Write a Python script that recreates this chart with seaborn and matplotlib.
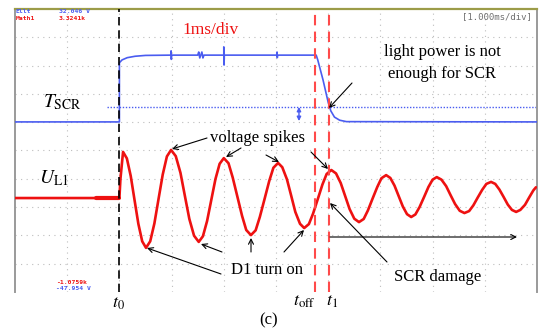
import matplotlib
matplotlib.use("Agg")
import matplotlib.pyplot as plt
import seaborn as sns
import pandas as pd

# ---------------- data (time in ms, amplitude in screen divisions) ----------------
u_time = [-2.0, 0.0, 0.02, 0.07,
          0.143, 0.217, 0.29, 0.363, 0.437, 0.51,
          0.59, 0.67, 0.75, 0.83, 0.91, 0.99,
          1.08, 1.17, 1.255, 1.34, 1.43, 1.52,
          1.60, 1.68, 1.76, 1.84, 1.92, 2.00,
          2.09, 2.17, 2.26, 2.35, 2.43, 2.52,
          2.61, 2.69, 2.78, 2.87, 2.95, 3.04,
          3.12, 3.21, 3.29, 3.37, 3.46, 3.54,
          3.63, 3.71, 3.80, 3.89, 3.97, 4.06,
          4.15, 4.24, 4.325, 4.41, 4.50, 4.59,
          4.68, 4.76, 4.85, 4.94, 5.02, 5.11,
          5.19, 5.27, 5.35, 5.43, 5.51, 5.59,
          5.67, 5.75, 5.835, 5.92, 6.00, 6.08,
          6.17, 6.26, 6.345, 6.43, 6.52, 6.61,
          6.70, 6.78, 6.865, 6.95, 7.03, 7.12,
          7.20, 7.28, 7.36, 7.44, 7.52, 7.60,
          7.68, 7.77, 7.85, 7.93, 7.98]
u_val = [-1.68, -1.68, -1.0, -0.05,
         -0.28, -0.90, -1.75, -2.59, -3.21, -3.44,
         -3.21, -2.58, -1.71, -0.85, -0.21, 0.02,
         -0.20, -0.79, -1.61, -2.42, -3.01, -3.23,
         -3.03, -2.49, -1.75, -1.01, -0.47, -0.27,
         -0.45, -0.95, -1.63, -2.31, -2.81, -2.99,
         -2.82, -2.35, -1.72, -1.08, -0.61, -0.44,
         -0.59, -1.02, -1.59, -2.17, -2.59, -2.74,
         -2.60, -2.23, -1.72, -1.20, -0.83, -0.69,
         -0.81, -1.15, -1.61, -2.07, -2.41, -2.53,
         -2.42, -2.12, -1.70, -1.29, -0.98, -0.87,
         -0.97, -1.24, -1.61, -1.98, -2.25, -2.35,
         -2.26, -2.00, -1.65, -1.29, -1.03, -0.94,
         -1.03, -1.26, -1.58, -1.89, -2.13, -2.21,
         -2.14, -1.94, -1.66, -1.39, -1.18, -1.11,
         -1.18, -1.38, -1.64, -1.91, -2.10, -2.17,
         -2.10, -1.92, -1.66, -1.41, -1.30]

t_time = [-2.0, 0.0, 0.0, 0.05, 0.15, 0.3, 0.5,
          0.99, 0.99, 0.995, 1.0,
          1.50, 1.52, 1.54, 1.58, 1.60, 1.62,
          2.00, 2.00, 2.005, 2.01,
          3.02, 3.02, 3.025, 3.03,
          3.77, 3.80, 3.90, 4.00, 4.05, 4.12, 4.22, 4.35, 8.0]
t_val = [1.01, 1.01, 3.10, 3.20, 3.28, 3.33, 3.36,
         3.37, 3.52, 3.22, 3.37,
         3.37, 3.48, 3.27, 3.48, 3.27, 3.37,
         3.37, 3.66, 3.02, 3.37,
         3.37, 3.48, 3.28, 3.37,
         3.37, 3.20, 2.50, 1.70, 1.40, 1.18, 1.07, 1.02, 1.01]

t0_time = 0.0
toff_time = 3.75
t1_time = 4.02
trigger_level = 1.54

# ---------------- style ----------------
sns.set_theme(style="white")
plt.rcParams['font.family'] = ['Liberation Serif', 'DejaVu Serif']
plt.rcParams['mathtext.fontset'] = 'stix'
plt.rcParams['text.color'] = 'black'

RED = '#ee1111'
BLUE = '#4a5cf0'
DRED = '#ff4a4a'

W, H = 542, 332
fig = plt.figure(figsize=(W / 100, H / 100), dpi=100)
ax = fig.add_axes([15 / W, 40 / H, 522 / W, 283 / H])
ax.set_xlim(-2, 8)
ax.set_ylim(-5, 5)
ax.set_xticks([])
ax.set_yticks([])
ax.set_facecolor('white')
ax.spines['bottom'].set_visible(False)
ax.spines['top'].set_color('#9c9c48')
ax.spines['top'].set_linewidth(1.6)
for s in ['left', 'right']:
    ax.spines[s].set_color('#9a9a9a')
    ax.spines[s].set_linewidth(1.4)


def P(xp, yp):
    """pixel position -> data coordinates (layout helper for labels)"""
    return ((xp - 120.4) / 52.2, (150.5 - yp) / 28.3)


# grid
for k in range(1, 10):
    ax.axvline(-2 + k, color='#bdbdbd', ls=(0, (1, 4)), lw=0.8, zorder=1)
    ax.axhline(-5 + k, color='#bdbdbd', ls=(0, (1, 4)), lw=0.8, zorder=1)

# trigger reference line
ax.plot([-0.24, 8], [trigger_level, trigger_level], color=BLUE, ls=(0, (1, 1.2)), lw=1.0, zorder=2)
ax.annotate('', xy=(3.44, trigger_level), xytext=(3.44, 1.04),
            arrowprops=dict(arrowstyle='<|-|>', color=BLUE, lw=1.0, mutation_scale=6, shrinkA=0, shrinkB=0))

# traces
sns.lineplot(x=t_time, y=t_val, ax=ax, sort=False, estimator=None, color=BLUE, linewidth=1.2, zorder=3)
sns.lineplot(x=u_time, y=u_val, ax=ax, sort=False, estimator=None, color=RED, linewidth=1.9, zorder=3)
ax.plot([-0.45, 0.0], [u_val[0], u_val[1]], color=RED, lw=3.0, zorder=3)

# event markers
ax.axvline(t0_time, color='black', ls=(0, (5, 3)), lw=1.2, zorder=4)
ax.axvline(toff_time, color=DRED, ls=(0, (5, 3)), lw=1.5, zorder=4)
ax.axvline(t1_time, color=DRED, ls=(0, (5, 3)), lw=1.5, zorder=4)

# scope readouts
mono = 'DejaVu Sans Mono'
ax.text(*P(17, 11.5), 'Ellt', color=BLUE, fontsize=4.6, family=mono, fontweight='bold', va='center')
ax.text(*P(60, 11.5), '32.046 V', color=BLUE, fontsize=4.6, family=mono, fontweight='bold', va='center')
ax.text(*P(17, 18.5), 'Math1', color=RED, fontsize=4.6, family=mono, fontweight='bold', va='center')
ax.text(*P(60, 18.5), '3.3241k', color=RED, fontsize=4.6, family=mono, fontweight='bold', va='center')
ax.text(*P(57, 283), '-1.0759k', color=RED, fontsize=4.6, family=mono, fontweight='bold', va='center')
ax.text(*P(57, 289), '-47.954 V', color=BLUE, fontsize=4.6, family=mono, fontweight='bold', va='center')
ax.text(*P(498, 17), '[1.000ms/div]', color='#707070', fontsize=6.5, family=mono, va='center', ha='center')

# labels
ax.text(*P(212, 30), '1ms/div', color=RED, fontsize=12.5, ha='center', va='center')
ax.text(*P(443, 52), 'light power is not', fontsize=12, ha='center', va='center')
ax.text(*P(443, 74), 'enough for SCR', fontsize=12, ha='center', va='center')
ax.text(*P(63, 102), r'$T_{\mathrm{SCR}}$', fontsize=14, ha='center', va='center')
ax.text(*P(55, 178), r'$U_{\mathrm{L1}}$', fontsize=14, ha='center', va='center')
ax.text(*P(259, 138), 'voltage spikes', fontsize=12, ha='center', va='center')
ax.text(*P(268, 270), 'D1 turn on', fontsize=12, ha='center', va='center')
ax.text(*P(439, 277), 'SCR damage', fontsize=12, ha='center', va='center')
ax.text(*P(119, 303), r'$t_{\mathit{0}}$', fontsize=13, ha='center', va='center', clip_on=False)
ax.text(*P(305, 302), r'$t_{\mathrm{off}}$', fontsize=13, ha='center', va='center', clip_on=False)
ax.text(*P(333, 302), r'$t_{\mathit{1}}$', fontsize=13, ha='center', va='center', clip_on=False)
ax.text(*P(270, 320), '(c)', fontsize=12, ha='center', va='center', clip_on=False)

arrow_kw = dict(arrowstyle='->', color='black', lw=0.8, mutation_scale=9, shrinkA=0, shrinkB=0)
arrows = [
    ((353, 83), (330, 108)),
    ((208, 138), (173, 149)),
    ((242, 148), (227, 157)),
    ((267, 155), (280, 162)),
    ((312, 152), (329, 169)),
    ((222, 274), (148, 248)),
    ((223, 252), (202, 244)),
    ((252, 252), (252, 238)),
    ((285, 252), (305, 230)),
    ((388, 262), (331, 203)),
    ((331, 237), (518, 237)),
]
for (sx, sy), (ex, ey) in arrows:
    ax.annotate('', xy=P(ex, ey), xytext=P(sx, sy), arrowprops=arrow_kw, zorder=5)

fig.savefig('out.png', dpi=100)
